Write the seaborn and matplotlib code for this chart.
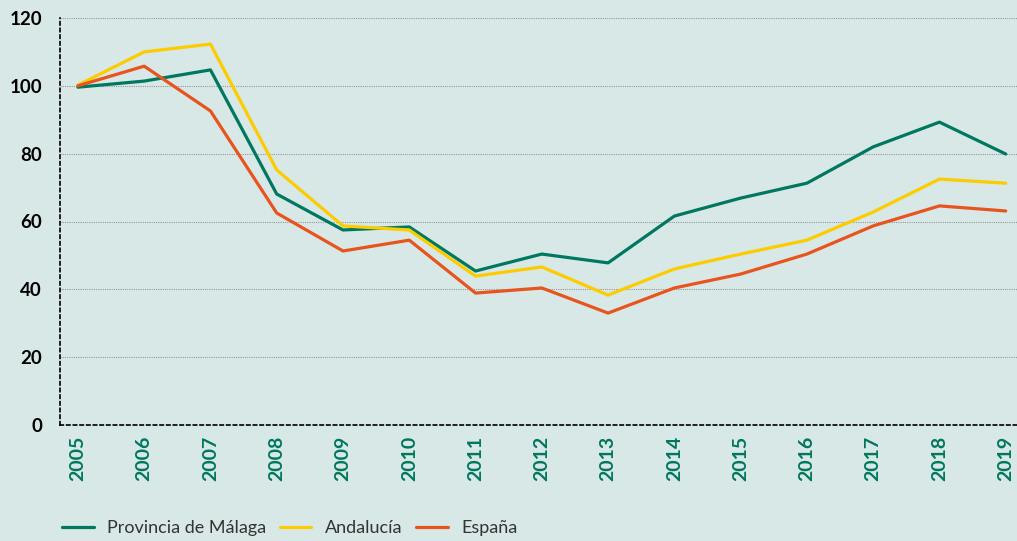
import numpy as np
import pandas as pd
import seaborn as sns
import matplotlib.pyplot as plt

years = list(range(2005, 2020))
malaga = [99.6, 101.4, 104.7, 68.1, 57.5, 58.4, 45.4, 50.4, 47.8, 61.6, 66.9, 71.3, 82.0, 89.3, 79.9]
andalucia = [100.2, 110.0, 112.3, 75.2, 58.7, 57.5, 43.9, 46.6, 38.3, 46.0, 50.4, 54.5, 62.8, 72.5, 71.3]
espana = [100.0, 105.8, 92.6, 62.5, 51.3, 54.5, 38.9, 40.4, 33.0, 40.4, 44.5, 50.4, 58.7, 64.6, 63.1]
series_names = ['Provincia de Málaga', 'Andalucía', 'España']
colors = ['#00775f', '#fccb00', '#e8541e']

df = pd.DataFrame({'year': years * 3,
                   'value': malaga + andalucia + espana,
                   'serie': sum([[n] * len(years) for n in series_names], [])})

bg = '#d8e8e6'
sns.set_theme(style='white')
plt.rcParams['font.family'] = ['Lato', 'DejaVu Sans']

fig = plt.figure(figsize=(10.17, 5.41), dpi=100, facecolor=bg)
ax = fig.add_axes([60 / 1017, 1 - 425 / 541, 1 - 60 / 1017, (425 - 18) / 541])
ax.set_facecolor(bg)

sns.lineplot(data=df, x='year', y='value', hue='serie', palette=colors,
             hue_order=series_names, linewidth=2.3, ax=ax)

ax.set_xlim(2004.73, 2019.17)
ax.set_ylim(0, 120)
ax.set_yticks(range(0, 121, 20))
ax.set_xticks(years)
ax.set_xticklabels([str(y) for y in years], rotation=90, color='#00775f',
                   fontsize=14, fontweight='bold')
ax.set_yticklabels([str(v) for v in range(0, 121, 20)], fontsize=13.5,
                   fontweight='bold', color='black')
ax.tick_params(axis='both', length=0)
ax.tick_params(axis='y', pad=13)
ax.tick_params(axis='x', pad=8)
ax.set_xlabel('')
ax.set_ylabel('')

ax.grid(axis='y', linestyle=(0, (1, 1)), color='#999999', linewidth=0.8)
ax.set_axisbelow(True)
for s in ['top', 'right']:
    ax.spines[s].set_visible(False)
for s in ['left', 'bottom']:
    ax.spines[s].set_linestyle((0, (2, 2)))
    ax.spines[s].set_color('black')
    ax.spines[s].set_linewidth(1.2)

handles, labels = ax.get_legend_handles_labels()
ax.get_legend().remove()
leg = fig.legend(handles, labels, loc='center left',
                 bbox_to_anchor=(62 / 1017, 1 - 528 / 541), ncol=3,
                 frameon=False, fontsize=13, handlelength=1.75, columnspacing=0.75,
                 handletextpad=0.75, borderpad=0, borderaxespad=0)
for t in leg.get_texts():
    t.set_color('#333333')

fig.savefig('out.png', dpi=100, facecolor=bg)
